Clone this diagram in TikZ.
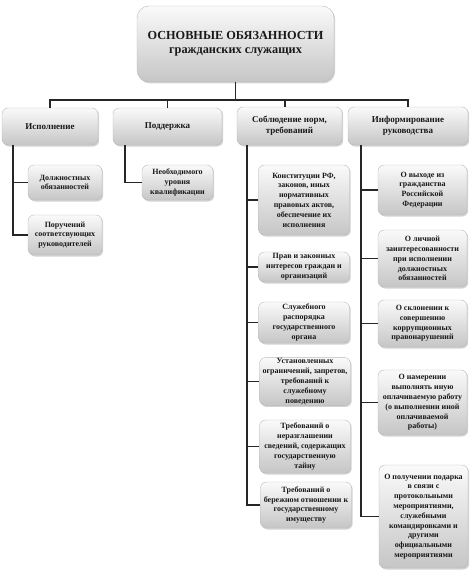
\documentclass[tikz,border=0pt]{standalone}
\usepackage{fontspec}
\setmainfont{Liberation Serif}
\usetikzlibrary{shadows}

\tikzset{
	duty/.style={rectangle, rounded corners=6pt, draw=gray!55, top color=gray!4, bottom color=gray!45,
		drop shadow={opacity=0.35, shadow xshift=1.2pt, shadow yshift=-1.5pt},
		align=center, inner sep=1pt, text=black!90, font=\bfseries\fontsize{8}{9.8}\selectfont},
	head/.style={duty, font=\bfseries\fontsize{9}{11}\selectfont},
	root/.style={duty, rounded corners=12pt, font=\bfseries\fontsize{12.3}{13.5}\selectfont},
	link/.style={line width=1.4pt, black!85},
}

\begin{document}
\begin{tikzpicture}[x=1pt, y=-1pt]
	\useasboundingbox (0,0) rectangle (474,575);

	\node[root, minimum width=197pt, minimum height=76pt] (main) at (235.5,44) {ОСНОВНЫЕ ОБЯЗАННОСТИ\\гражданских служащих};

	\node[head, minimum width=96pt, minimum height=37pt] (isp) at (50,126.5) {Исполнение};
	\node[head, minimum width=109pt, minimum height=37pt] (podd) at (167.5,126.5) {Поддержка};
	\node[head, minimum width=105pt, minimum height=38pt] (sobl) at (289.5,126) {Соблюдение норм,\\требований};
	\node[head, minimum width=120pt, minimum height=38pt] (inf) at (408,126) {Информирование\\руководства};

	\node[duty, minimum width=74pt, minimum height=35pt] (dolzh) at (65,182.5) {Должностных\\обязанностей};
	\node[duty, minimum width=74pt, minimum height=40pt] (poruch) at (65,235) {Поручений\\соответсвующих\\руководителей};

	\node[duty, minimum width=71pt, minimum height=35pt] (neobh) at (177.5,182.5) {Необходимого\\уровня\\квалификации};

	\node[duty, minimum width=91pt, minimum height=70pt] (konst) at (304,200) {Конституции РФ,\\законов, иных\\нормативных\\правовых актов,\\обеспечение их\\исполнения};
	\node[duty, minimum width=91pt, minimum height=30pt] (prav) at (304,267) {Прав и законных\\интересов граждан и\\организаций};
	\node[duty, minimum width=91pt, minimum height=41pt] (sluzh) at (304,322.5) {Служебного\\распорядка\\государственного\\органа};
	\node[duty, minimum width=91pt, minimum height=47pt] (ustan) at (305,381.5) {Установленных\\ограничений, запретов,\\требований к\\служебному\\поведению};
	\node[duty, minimum width=91pt, minimum height=53pt] (nerazgl) at (305,446.5) {Требований о\\неразглашении\\сведений, содержащих\\государственную\\тайну};
	\node[duty, minimum width=91pt, minimum height=46pt] (berezh) at (306,505) {Требований о\\бережном отношении к\\государственному\\имуществу};

	\node[duty, minimum width=89pt, minimum height=50pt] (vyhod) at (422.5,190) {О выходе из\\гражданства\\Российской\\Федерации};
	\node[duty, minimum width=89pt, minimum height=57pt] (lichn) at (422.5,258.5) {О личной\\заинтересованности\\при исполнении\\должностных\\обязанностей};
	\node[duty, minimum width=89pt, minimum height=47pt] (sklon) at (422.5,323.5) {О склонении к\\совершению\\коррупционных\\правонарушений};
	\node[duty, minimum width=89pt, minimum height=65pt] (namer) at (422.5,402.5) {О намерении\\выполнять иную\\оплачиваемую работу\\(о выполнении иной\\оплачиваемой\\работы)};
	\node[duty, minimum width=89pt, minimum height=103pt] (podar) at (423.5,516.5) {О получении подарка\\в связи с\\протокольными\\мероприятиями,\\служебными\\командировками и\\другими\\официальными\\мероприятиями};

	\draw[link] (main.south) -- ++(0,18) -| (isp.north);
	\draw[link] (main.south) -- ++(0,18) -| (podd.north);
	\draw[link] (main.south) -- ++(0,18) -| ([xshift=-4.5pt]sobl.north);
	\draw[link] (main.south) -- ++(0,18) -| (inf.north);

	\foreach \c in {dolzh,poruch}
		\draw[link] ([xshift=-37pt]isp.south) |- (\c.west);
	\draw[link] ([xshift=-42.5pt]podd.south) |- (neobh.west);
	\foreach \c in {konst,prav,sluzh,ustan,nerazgl,berezh}
		\draw[link] ([xshift=-42.5pt]sobl.south) |- (\c.west);
	\foreach \c in {vyhod,lichn,sklon,namer,podar}
		\draw[link] ([xshift=-47pt]inf.south) |- (\c.west);
\end{tikzpicture}
\end{document}
